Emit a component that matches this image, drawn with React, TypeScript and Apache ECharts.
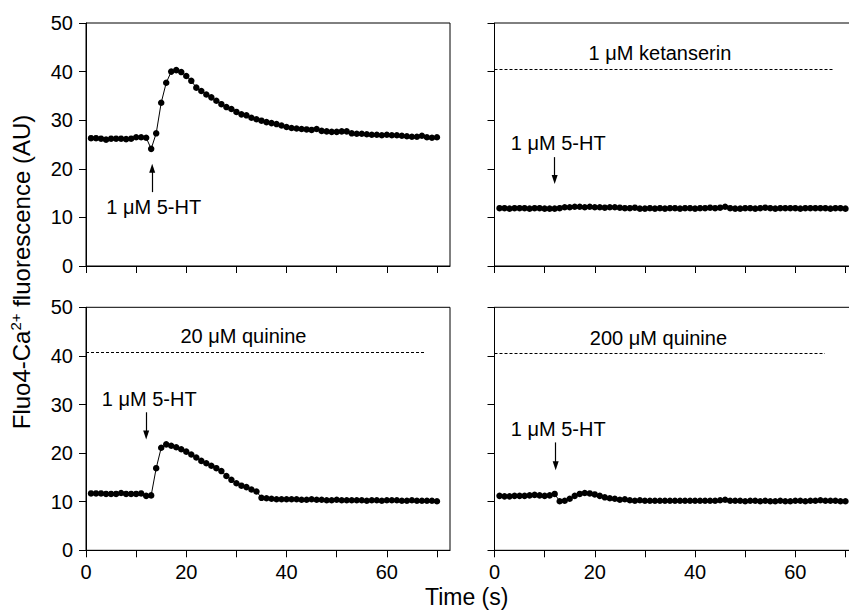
import React, { useEffect, useRef } from "react";
import * as echarts from "echarts";

const FONT = "'Liberation Sans', Arial, Helvetica, sans-serif";

const timeS = [
  1, 2, 3, 4, 5, 6, 7, 8, 9, 10, 11, 12, 13, 14, 15, 16, 17, 18, 19, 20,
  21, 22, 23, 24, 25, 26, 27, 28, 29, 30, 31, 32, 33, 34, 35, 36, 37, 38, 39, 40,
  41, 42, 43, 44, 45, 46, 47, 48, 49, 50, 51, 52, 53, 54, 55, 56, 57, 58, 59, 60,
  61, 62, 63, 64, 65, 66, 67, 68, 69, 70,
];

const controlValues = [
  26.3, 26.3, 26.2, 26.0, 26.2, 26.2, 26.2, 26.1, 26.2, 26.5, 26.5, 26.4, 24.1, 27.3, 33.6, 37.7, 40.0, 40.3, 39.9, 39.1,
  38.1, 36.7, 36.0, 35.3, 34.7, 34.0, 33.3, 32.7, 32.3, 31.7, 31.2, 31.0, 30.5, 30.2, 29.9, 29.6, 29.4, 29.2, 28.9, 28.6,
  28.4, 28.3, 28.2, 28.1, 28.0, 28.2, 27.8, 27.7, 27.6, 27.6, 27.7, 27.7, 27.3, 27.2, 27.2, 27.1, 27.0, 27.0, 26.9, 27.0,
  26.9, 26.9, 26.8, 26.7, 26.6, 26.6, 26.8, 26.5, 26.4, 26.5,
];

const ketanserinValues = [
  11.9, 11.9, 11.8, 11.9, 11.9, 11.9, 11.8, 11.9, 11.9, 11.8, 11.8, 11.8, 11.9, 12.1, 12.1, 12.2, 12.2, 12.1, 12.2, 12.1,
  12.1, 12.0, 12.1, 12.1, 12.0, 11.9, 11.9, 12.0, 11.8, 11.8, 11.9, 11.8, 11.9, 11.8, 11.9, 11.9, 11.8, 11.9, 11.9, 11.8,
  11.9, 11.9, 12.0, 11.9, 12.0, 12.2, 11.9, 11.8, 11.8, 11.9, 11.9, 11.8, 11.9, 12.0, 11.9, 11.8, 11.9, 11.9, 11.9, 11.9,
  11.8, 11.9, 11.9, 11.9, 11.9, 11.9, 11.8, 11.9, 11.9, 11.8,
];

const quinine20Values = [
  11.7, 11.7, 11.7, 11.6, 11.6, 11.6, 11.8, 11.6, 11.6, 11.6, 11.7, 11.2, 11.3, 16.9, 21.1, 21.8, 21.5, 21.2, 20.8, 20.3,
  19.7, 19.1, 18.4, 17.9, 17.4, 16.9, 16.3, 15.3, 14.5, 13.8, 13.3, 13.0, 12.5, 12.1, 10.8, 10.7, 10.6, 10.5, 10.5, 10.5,
  10.5, 10.5, 10.4, 10.4, 10.5, 10.4, 10.4, 10.3, 10.3, 10.4, 10.3, 10.3, 10.3, 10.3, 10.3, 10.2, 10.3, 10.3, 10.2, 10.3,
  10.3, 10.3, 10.2, 10.2, 10.3, 10.2, 10.2, 10.2, 10.2, 10.1,
];

const quinine200Values = [
  11.2, 11.1, 11.1, 11.2, 11.2, 11.2, 11.3, 11.4, 11.3, 11.2, 11.3, 11.6, 10.1, 10.2, 10.6, 11.2, 11.6, 11.8, 11.7, 11.5,
  11.2, 10.9, 10.7, 10.6, 10.4, 10.5, 10.3, 10.2, 10.3, 10.2, 10.2, 10.2, 10.2, 10.2, 10.2, 10.2, 10.2, 10.2, 10.2, 10.2,
  10.2, 10.2, 10.2, 10.2, 10.3, 10.4, 10.2, 10.2, 10.2, 10.1, 10.2, 10.2, 10.1, 10.2, 10.1, 10.1, 10.2, 10.1, 10.1, 10.2,
  10.2, 10.1, 10.2, 10.2, 10.3, 10.2, 10.2, 10.2, 10.1, 10.1,
];

const xTicks = [0, 10, 20, 30, 40, 50, 60, 70];
const xTickLabels = [0, 20, 40, 60];
const yTicks = [0, 10, 20, 30, 40, 50];

const panelNames = ["control", "ketanserin", "quinine20", "quinine200"];
const drugLabels = ["", "1 μM ketanserin", "20 μM quinine", "200 μM quinine"];
const drugLabelPos = [null, [33, 43.8], [31.4, 44.1], [32.7, 43.6]];
const drugLineY = [null, 40.5, 40.7, 40.5];
const drugLineEnd = [null, 67.8, 67.5, 65.9];
const htLabel = "1 μM 5-HT";
const htLabelPos = [[13.5, 12.2], [12.7, 25.4], [12.6, 31.1], [12.7, 24.9]];
const arrowX = [13.2, 12.0, 12.0, 12.2];
const arrowFromY = [15.2, 22.4, 28.4, 22.2];
const arrowToY = [20.1, 17.8, 23.7, 17.4];

const seriesValues = [controlValues, ketanserinValues, quinine20Values, quinine200Values];

export default function App() {
  const ref = useRef<HTMLDivElement>(null);

  useEffect(() => {
    if (!ref.current) return;
    const chart = echarts.init(ref.current, undefined, { renderer: "svg" });

    const gridPos = [
      { left: 86, top: 23, right: 399 },
      { left: 494.5, top: 23, right: -9.5 },
      { left: 86, top: 307.3, right: 399 },
      { left: 494.5, top: 307.3, right: -9.5 },
    ];

    const grids = gridPos.map((g) => ({
      left: g.left,
      top: g.top,
      right: g.right,
      height: 243,
      containLabel: false,
      outerBoundsMode: "none",
      show: true,
      borderColor: "#000",
      borderWidth: 1,
      backgroundColor: "transparent",
    }));

    const xAxes = gridPos.map((_, i) => ({
      type: "value",
      gridIndex: i,
      min: 0,
      max: 72.6,
      axisLine: { show: true, onZero: false, lineStyle: { color: "#000", width: 1 } },
      axisTick: {
        show: true,
        inside: false,
        length: 7,
        customValues: xTicks,
        lineStyle: { color: "#000", width: 1 },
      },
      axisLabel: {
        show: i >= 2,
        customValues: xTickLabels,
        formatter: (v: number) => (v % 20 === 0 && v <= 60 ? String(v) : ""),
        fontSize: 20,
        fontFamily: FONT,
        color: "#000",
        margin: 12,
      },
      splitLine: { show: false },
    }));

    const yAxes = gridPos.map((_, i) => ({
      type: "value",
      gridIndex: i,
      min: 0,
      max: 50,
      interval: 10,
      axisLine: { show: true, onZero: false, lineStyle: { color: "#000", width: 1 } },
      axisTick: {
        show: true,
        inside: false,
        length: 7,
        customValues: yTicks,
        lineStyle: { color: "#000", width: 1 },
      },
      axisLabel: {
        show: i % 2 === 0,
        fontSize: 20,
        fontFamily: FONT,
        color: "#000",
        margin: 13,
      },
      splitLine: { show: false },
    }));

    const series = seriesValues.map((vals, i) => {
      const lines: any[] = [];
      if (drugLineY[i] !== null) {
        lines.push([
          {
            coord: [0, drugLineY[i]],
            symbol: "none",
            lineStyle: { type: [3, 2], width: 1, color: "#000" },
          },
          { coord: [drugLineEnd[i], drugLineY[i]], symbol: "none" },
        ]);
      }
      lines.push([
        {
          coord: [arrowX[i], arrowFromY[i]],
          symbol: "none",
          lineStyle: { type: "solid", width: 1.2, color: "#000" },
        },
        { coord: [arrowX[i], arrowToY[i]], symbol: "triangle", symbolSize: [6, 9] },
      ]);

      const points: any[] = [
        {
          coord: htLabelPos[i],
          label: { formatter: htLabel },
        },
      ];
      if (drugLabelPos[i]) {
        points.push({ coord: drugLabelPos[i], label: { formatter: drugLabels[i] } });
      }

      return {
        name: panelNames[i],
        type: "line",
        xAxisIndex: i,
        yAxisIndex: i,
        data: timeS.map((t, k) => [t, vals[k]]),
        symbol: "circle",
        symbolSize: 6.5,
        showSymbol: true,
        showAllSymbol: true,
        lineStyle: { color: "#000", width: 1 },
        itemStyle: { color: "#000" },
        silent: true,
        clip: false,
        markLine: {
          silent: true,
          animation: false,
          symbol: ["none", "none"],
          label: { show: false },
          lineStyle: { color: "#000", width: 1 },
          data: lines,
        },
        markPoint: {
          silent: true,
          animation: false,
          symbol: "circle",
          symbolSize: 0,
          itemStyle: { color: "rgba(0,0,0,0)" },
          label: {
            show: true,
            position: "inside",
            color: "#000",
            fontSize: 20,
            fontFamily: FONT,
          },
          data: points,
        },
      };
    });

    chart.setOption({
      animation: false,
      backgroundColor: "#fff",
      grid: grids,
      xAxis: xAxes,
      yAxis: yAxes,
      series,
      graphic: [
        {
          type: "text",
          x: 21,
          y: 272,
          rotation: Math.PI / 2,
          style: {
            text: "{n|Fluo4-Ca}{s|2+}{n| fluorescence (AU)}",
            align: "center",
            verticalAlign: "middle",
            fill: "#000",
            rich: {
              n: { fontSize: 24, fontFamily: FONT, fill: "#000", lineHeight: 26 },
              s: { fontSize: 15, fontFamily: FONT, fill: "#000", verticalAlign: "top", lineHeight: 18 },
            },
          },
        },
        {
          type: "text",
          x: 466.7,
          y: 597,
          style: {
            text: "Time (s)",
            align: "center",
            verticalAlign: "middle",
            fontSize: 23,
            fontFamily: FONT,
            fill: "#000",
          },
        },
      ],
    });

    return () => chart.dispose();
  }, []);

  return (
    <div
      ref={ref}
      style={{ position: "absolute", left: 0, top: 0, width: 849, height: 612 }}
    />
  );
}
